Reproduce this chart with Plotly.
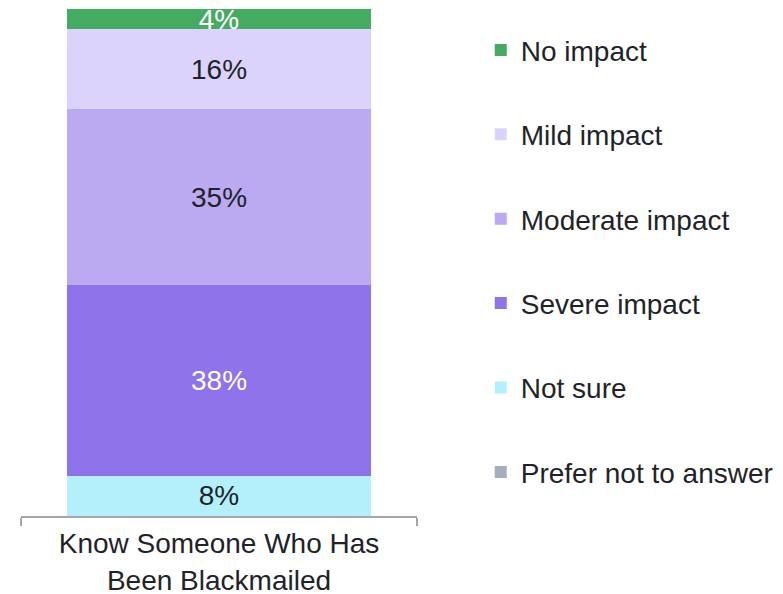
import plotly.graph_objects as go

categories = ["Know Someone Who Has<br>Been Blackmailed"]
series_names = ["Prefer not to answer", "Not sure", "Severe impact",
                "Moderate impact", "Mild impact", "No impact"]
series_values = [0, 8, 38, 35, 16, 4]
series_colors = ["#A5AEBD", "#B3F0FC", "#8E73EA", "#BBA9F2", "#DCD3FC", "#45AA62"]
text_colors = ["#1F2329", "#1F2329", "#FFFFFF", "#1F2329", "#1F2329", "#FFFFFF"]

FONT = "Liberation Sans, Arial, sans-serif"
FS = 28

fig = go.Figure()
n = len(series_names)
for i, (name, val, col, tcol) in enumerate(zip(series_names, series_values, series_colors, text_colors)):
    fig.add_trace(go.Bar(
        x=categories,
        y=[val],
        name=name,
        legendgroup=name,
        legendrank=n - i,
        marker=dict(color=col, line=dict(width=0)),
        text=[f"{val}%" if val > 0 else ""],
        textposition="inside",
        insidetextanchor="middle",
        textangle=0,
        constraintext="none",
        cliponaxis=False,
        textfont=dict(family=FONT, size=FS, color=tcol),
        hoverinfo="skip",
    ))

fig.update_layout(
    width=783,
    height=594,
    barmode="stack",
    bargap=0.23,
    plot_bgcolor="white",
    paper_bgcolor="white",
    margin=dict(l=13, r=374, t=1, b=86),
    font=dict(family=FONT, size=FS, color="#1F2329"),
    showlegend=True,
    legend=dict(
        x=1.161, xanchor="left",
        y=0.968, yanchor="top",
        traceorder="grouped",
        tracegroupgap=45,
        font=dict(family=FONT, size=FS, color="#1F2329"),
        bgcolor="rgba(0,0,0,0)",
    ),
    uniformtext=dict(mode=False),
)
fig.update_xaxes(
    range=[-0.5, 0.5],
    showline=True, linecolor="#A6A6A6", linewidth=1.5,
    ticks="outside", tickson="boundaries", ticklen=8, tickcolor="#A6A6A6",
    tickwidth=1.5,
    ticklabelstandoff=2,
    tickfont=dict(family=FONT, size=FS, color="#1F2329"),
    showgrid=False,
)
fig.update_yaxes(
    range=[0, 101],
    visible=False,
    showgrid=False,
)

fig.write_html("out.html")
